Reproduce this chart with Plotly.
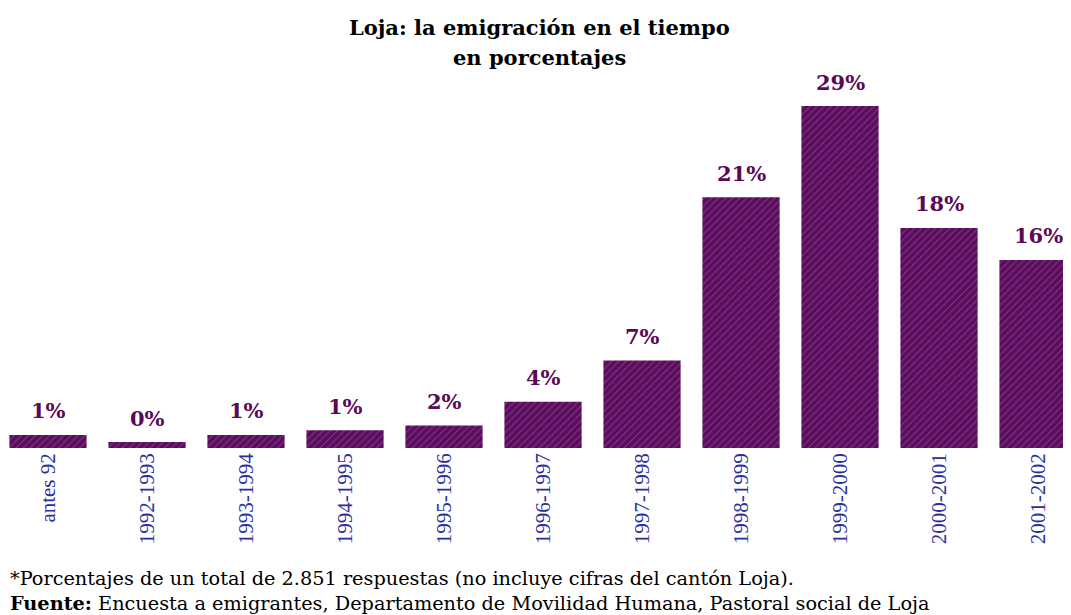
import plotly.graph_objects as go

categories = ["antes 92", "1992-1993", "1993-1994", "1994-1995", "1995-1996",
              "1996-1997", "1997-1998", "1998-1999", "1999-2000", "2000-2001", "2001-2002"]
values = [1.1, 0.5, 1.1, 1.5, 1.9, 3.9, 7.4, 21.2, 28.9, 18.6, 15.9]
value_labels = ["1%", "0%", "1%", "1%", "2%", "4%", "7%", "21%", "29%", "18%", "16%"]

title_line1 = "Loja: la emigración en el tiempo"
title_line2 = "en porcentajes"
note_text = "*Porcentajes de un total de 2.851 respuestas (no incluye cifras del cantón Loja)."
source_text = "<b>Fuente:</b> Encuesta a emigrantes, Departamento de Movilidad Humana, Pastoral social de Loja"

times = "Liberation Serif, Times New Roman, serif"
wide = "DejaVu Serif, serif"

# page body has an 8px margin, so the figure is 8px smaller than the window
W, H = 1063, 607
T, B = 52, 167
plot_h = H - T - B

fig = go.Figure()
fig.add_trace(go.Bar(
    x=categories,
    y=values,
    marker=dict(
        color="#5c0b5e",
        line=dict(width=0),
        pattern=dict(shape="/", fgcolor="#9c7aa0", bgcolor="#5c0b5e", size=5, solidity=0.18),
    ),
    width=0.78,
    hoverinfo="skip",
))


def py(px_from_top):
    """convert figure pixel row to paper y coordinate"""
    return (H - B - px_from_top) / plot_h


annotations = [
    dict(x=c, y=v, text="<b>" + s + "</b>", xref="x", yref="y",
         xanchor="center", yanchor="middle", yshift=24, showarrow=False,
         font=dict(family=wide, size=21, color="#5a0a55"))
    for c, v, s in zip(categories, values, value_labels)
]
annotations += [
    dict(text="<b>" + title_line1 + "</b>", x=0.5, y=py(19), xref="paper", yref="paper",
         xanchor="center", yanchor="middle", showarrow=False,
         font=dict(family=wide, size=21, color="black")),
    dict(text="<b>" + title_line2 + "</b>", x=0.5, y=py(49), xref="paper", yref="paper",
         xanchor="center", yanchor="middle", showarrow=False,
         font=dict(family=wide, size=21, color="black")),
    dict(text=note_text, x=0.0, y=py(570), xref="paper", yref="paper",
         xanchor="left", yanchor="middle", showarrow=False,
         font=dict(family=wide, size=19.3, color="black")),
    dict(text=source_text, x=0.0, y=py(595), xref="paper", yref="paper",
         xanchor="left", yanchor="middle", showarrow=False,
         font=dict(family=wide, size=19.3, color="black")),
]

fig.update_layout(
    width=W,
    height=H,
    margin=dict(l=0, r=0, t=T, b=B),
    paper_bgcolor="white",
    plot_bgcolor="white",
    showlegend=False,
    xaxis=dict(
        range=[-0.404, 10.333],
        tickangle=-90,
        tickfont=dict(family=times, size=21, color="#2b2f9c"),
        showgrid=False, zeroline=False, showline=False, ticks="",
        fixedrange=True,
    ),
    yaxis=dict(
        range=[0, plot_h / 11.83],
        visible=False,
        showgrid=False, zeroline=False,
    ),
    annotations=annotations,
)

fig.write_html("out.html")
